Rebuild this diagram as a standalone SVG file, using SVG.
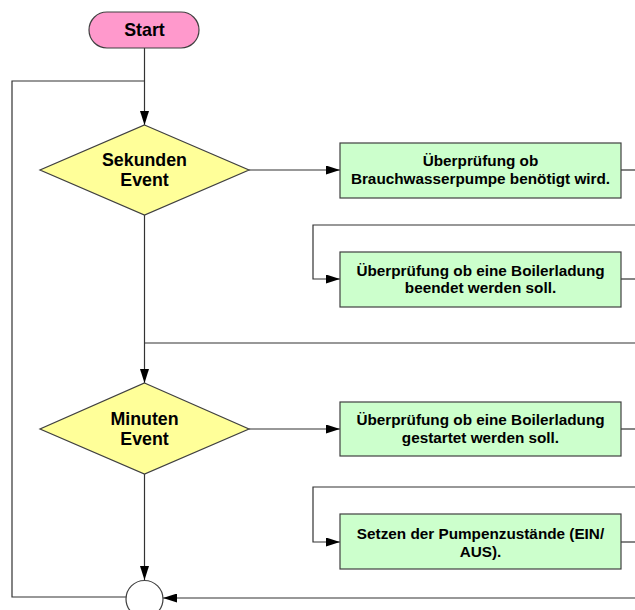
<svg xmlns="http://www.w3.org/2000/svg" width="635" height="610" viewBox="0 0 635 610">
  <defs>
    <marker id="arrow" viewBox="0 0 14 9" refX="14" refY="4.5" markerWidth="14" markerHeight="9" markerUnits="userSpaceOnUse" orient="auto">
      <path d="M0,0 L14,4.5 L0,9 Z" fill="#000"/>
    </marker>
    <style>
      .edge { fill: none; stroke: #333; stroke-width: 1.2; }
      .arr { marker-end: url(#arrow); }
      .shape { stroke: #404040; stroke-width: 1.2; }
      .term { fill: #ff99cc; }
      .dec { fill: #ffff99; }
      .proc { fill: #ccffcc; }
      .conn { fill: #ffffff; }
      .lbl { font-family: "Liberation Sans", Arial, sans-serif; font-weight: bold; fill: #000; text-anchor: middle; }
      .big { font-size: 17.8px; }
      .small { font-size: 15.3px; }
    </style>
  </defs>

  <g id="connectors">
    <!-- start to seconds decision, with loop-back joining from the left -->
    <path class="edge arr" d="M144.5,48 V125"/>
    <path class="edge" d="M144.5,597 H12 V81 H144.5"/>
    <!-- seconds decision to first check -->
    <path class="edge arr" d="M249,170 H340"/>
    <path class="edge" d="M621,170 H635"/>
    <!-- loop into second check -->
    <path class="edge arr" d="M635,225 H313 V279 H340"/>
    <path class="edge" d="M621,279 H635"/>
    <!-- seconds decision down to minutes decision -->
    <path class="edge arr" d="M144.5,215 V383"/>
    <path class="edge" d="M635,343 H144.5"/>
    <!-- minutes decision to third check -->
    <path class="edge arr" d="M249,429 H340"/>
    <path class="edge" d="M621,429 H635"/>
    <!-- loop into pump state -->
    <path class="edge arr" d="M635,487 H313 V542 H340"/>
    <path class="edge" d="M621,542 H635"/>
    <!-- minutes decision down to junction -->
    <path class="edge arr" d="M144.5,474 V580"/>
    <path class="edge arr" d="M635,598 H163"/>
  </g>

  <g id="start">
    <rect class="shape term" x="89" y="12" width="110" height="36" rx="18" ry="18"/>
    <text class="lbl big" x="144.5" y="36">Start</text>
  </g>

  <g id="sekunden-event">
    <polygon class="shape dec" points="144.5,125 249,170 144.5,215 40,170"/>
    <text class="lbl big" x="144.5" y="166">Sekunden</text>
    <text class="lbl big" x="144.5" y="186">Event</text>
  </g>

  <g id="check-brauchwasser">
    <rect class="shape proc" x="340" y="143" width="281" height="55"/>
    <text class="lbl small" x="480.5" y="166">Überprüfung ob</text>
    <text class="lbl small" x="480.5" y="183.5">Brauchwasserpumpe benötigt wird.</text>
  </g>

  <g id="check-boiler-end">
    <rect class="shape proc" x="340" y="252" width="281" height="55"/>
    <text class="lbl small" x="480.5" y="275.5">Überprüfung ob eine Boilerladung</text>
    <text class="lbl small" x="480.5" y="293">beendet werden soll.</text>
  </g>

  <g id="minuten-event">
    <polygon class="shape dec" points="144.5,383 249,429 144.5,474 40,429"/>
    <text class="lbl big" x="144.5" y="424.5">Minuten</text>
    <text class="lbl big" x="144.5" y="445">Event</text>
  </g>

  <g id="check-boiler-start">
    <rect class="shape proc" x="340" y="402" width="281" height="54"/>
    <text class="lbl small" x="480.5" y="425">Überprüfung ob eine Boilerladung</text>
    <text class="lbl small" x="480.5" y="442.5">gestartet werden soll.</text>
  </g>

  <g id="set-pumps">
    <rect class="shape proc" x="340" y="514" width="281" height="55"/>
    <text class="lbl small" x="480.5" y="539">Setzen der Pumpenzustände (EIN/</text>
    <text class="lbl small" x="480.5" y="556.5">AUS).</text>
  </g>

  <g id="junction">
    <circle class="shape conn" cx="144.5" cy="599" r="18.5"/>
  </g>
</svg>
